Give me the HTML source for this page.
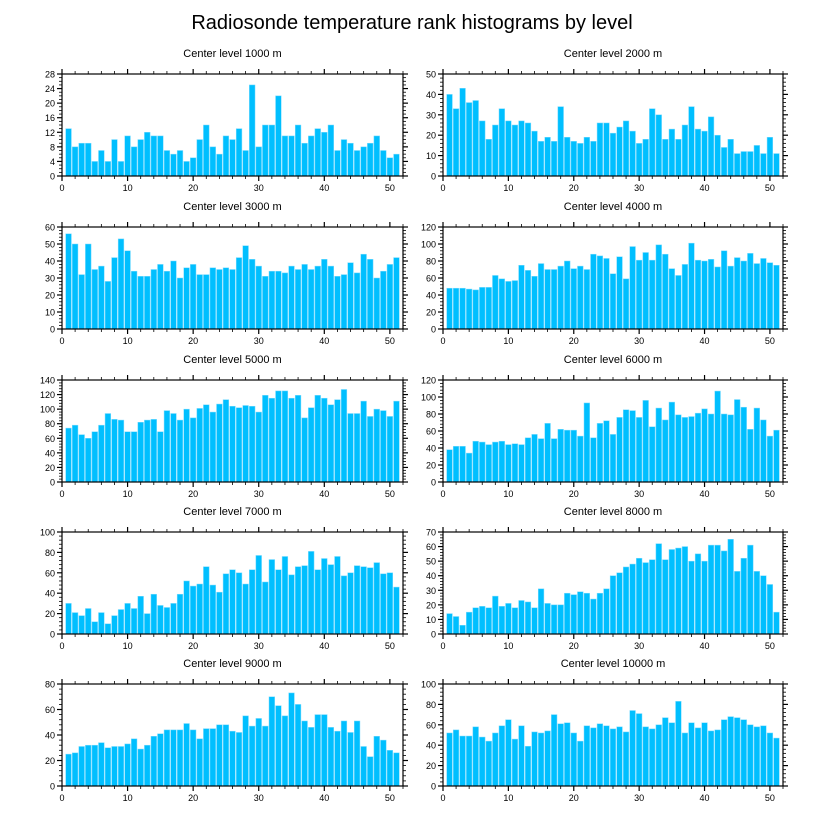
<!DOCTYPE html>
<html><head><meta charset="utf-8">
<style>
body{margin:0;background:#fff;}
svg{display:block;font-family:"Liberation Sans",sans-serif;}
</style></head>
<body>
<svg id="chart" width="824" height="824" viewBox="0 0 824 824">
<text x="412" y="29" font-size="20" text-anchor="middle">Radiosonde temperature rank histograms by level</text>
</svg>
<script>
const levels = [1000,2000,3000,4000,5000,6000,7000,8000,9000,10000];
const yMaxes = [28,50,60,120,140,120,100,70,80,100];
const yMajorSteps = [4,10,10,20,20,20,20,10,20,20];
const xTicks = [0,10,20,30,40,50];
const v1000 = [13,8,9,9,4,7,4,10,4,11,8,10,12,11,11,7,6,7,4,5,10,14,8,6,11,10,13,7,25,8,14,14,22,11,11,14,9,11,13,12,14,7,10,9,7,8,9,11,7,5,6];
const v2000 = [40,33,43,36,37,27,18,25,33,27,25,27,26,22,17,19,17,34,19,17,16,19,17,26,26,21,24,27,22,16,18,33,30,18,23,18,25,34,23,22,29,20,14,18,11,12,12,15,11,19,11];
const v3000 = [56,50,32,50,35,37,28,42,53,46,34,31,31,35,38,34,40,30,36,38,32,32,36,35,36,35,42,49,41,37,31,34,34,33,37,35,38,35,37,41,37,31,32,39,33,44,41,30,34,38,42];
const v4000 = [48,48,48,47,46,49,49,63,59,56,57,75,69,62,77,70,70,74,80,71,74,70,88,86,83,65,85,59,97,81,90,81,99,88,71,63,76,101,81,80,82,73,92,74,84,80,89,77,83,78,75];
const v5000 = [74,78,65,60,69,78,94,86,85,69,69,82,85,86,69,98,94,85,100,88,101,106,96,107,113,104,102,105,104,96,119,115,125,125,115,119,88,102,119,115,106,113,127,94,94,111,90,100,98,90,111];
const v6000 = [38,42,42,34,48,47,44,47,48,44,45,44,52,56,51,69,51,62,61,61,54,93,52,69,72,56,76,85,84,76,96,65,87,73,94,79,76,77,81,86,80,107,80,79,97,88,62,87,73,54,61];
const v7000 = [30,21,18,25,12,21,10,18,24,30,25,37,20,39,28,26,30,39,52,47,49,66,48,41,59,63,60,49,63,77,51,73,63,76,58,66,67,81,63,74,68,76,57,60,67,66,65,70,59,60,46];
const v8000 = [14,12,6,15,18,19,18,26,19,21,18,23,22,18,31,21,20,20,28,27,29,28,24,28,31,40,42,46,48,52,49,51,62,51,58,59,60,50,55,50,61,61,57,65,43,52,61,43,40,34,15];
const v9000 = [25,26,31,32,32,34,30,31,31,33,37,29,32,39,41,44,44,44,49,44,37,45,45,48,48,43,42,55,47,53,47,70,63,55,73,64,51,46,56,56,46,43,51,42,51,31,23,39,36,28,26];
const v10000 = [52,55,49,49,58,48,44,52,59,65,46,59,39,53,52,54,70,61,62,52,44,59,57,61,59,56,58,53,74,71,58,56,60,67,62,83,52,62,57,62,54,55,65,68,67,65,60,58,59,52,47];
const series = [v1000,v2000,v3000,v4000,v5000,v6000,v7000,v8000,v9000,v10000];

const NS = "http://www.w3.org/2000/svg";
const svg = document.getElementById('chart');
const colX = [[62,403],[443,783]];
const rowTop = [74,227,380,532,684];
const PH = 102;
const X_MIN = 0, X_MAX = 52;
function mk(tag, attrs, parent){
  const e = document.createElementNS(NS, tag);
  for (const k in attrs) e.setAttribute(k, attrs[k]);
  parent.appendChild(e);
  return e;
}
series.forEach((vals, i) => {
  const col = i % 2, row = Math.floor(i / 2);
  const x0 = colX[col][0], x1 = colX[col][1];
  const y0 = rowTop[row], y1 = y0 + PH;
  const yMax = yMaxes[i], step = yMajorSteps[i];
  const sx = v => x0 + (v - X_MIN) / (X_MAX - X_MIN) * (x1 - x0);
  const sy = v => y1 - v / yMax * (y1 - y0);
  const g = mk('g', {}, svg);
  
  
  const t = mk('text', {x:(x0+x1)/2, y:y0-17, 'font-size':11, 'text-anchor':'middle'}, g);
  t.textContent = 'Center level ' + levels[i] + ' m';
  
  
  const bw = 0.87 * (x1 - x0) / (X_MAX - X_MIN);
  vals.forEach((v, k) => {
    const cx = sx(k + 1);
    const r = mk('rect', {x:cx-bw/2, y:sy(v), width:bw, height:y1-sy(v), fill:'#00bfff', stroke:'#7fdcff', 'stroke-width':0.5}, g);
    
    
  });
  const frame = mk('rect', {x:x0, y:y0, width:x1-x0, height:PH, fill:'none', stroke:'#000', 'stroke-width':1.2}, g);
  
  
  // x ticks
  for (let m = 0; m <= X_MAX; m += 2) {
    const major = m % 10 === 0;
    const L = major ? 5 : 3;
    const x = sx(m);
    mk('line', {x1:x, x2:x, y1:y1, y2:y1+L, stroke:'#000', 'stroke-width':major?1.2:0.8}, g);
    mk('line', {x1:x, x2:x, y1:y0, y2:y0-L, stroke:'#000', 'stroke-width':major?1.2:0.8}, g);
  }
  xTicks.forEach(tv => {
    const lt = mk('text', {x:sx(tv), y:y1+15, 'font-size':9, 'text-anchor':'middle'}, g);
    lt.textContent = tv;
    
    
  });
  // y ticks
  const minorDiv = (step === 4) ? 4 : 5;
  const ms = step / minorDiv;
  for (let k = 0; k * ms <= yMax + 1e-9; k++) {
    const v = k * ms, major = k % minorDiv === 0;
    const L = major ? 5 : 3, y = sy(v);
    mk('line', {x1:x0, x2:x0-L, y1:y, y2:y, stroke:'#000', 'stroke-width':major?1.2:0.8}, g);
    mk('line', {x1:x1, x2:x1+L, y1:y, y2:y, stroke:'#000', 'stroke-width':major?1.2:0.8}, g);
  }
  for (let v = 0; v <= yMax; v += step) {
    const lt = mk('text', {x:x0-7, y:sy(v)+3.5, 'font-size':9, 'text-anchor':'end'}, g);
    lt.textContent = v;
    
    
  }
});
</script>
</body></html>
